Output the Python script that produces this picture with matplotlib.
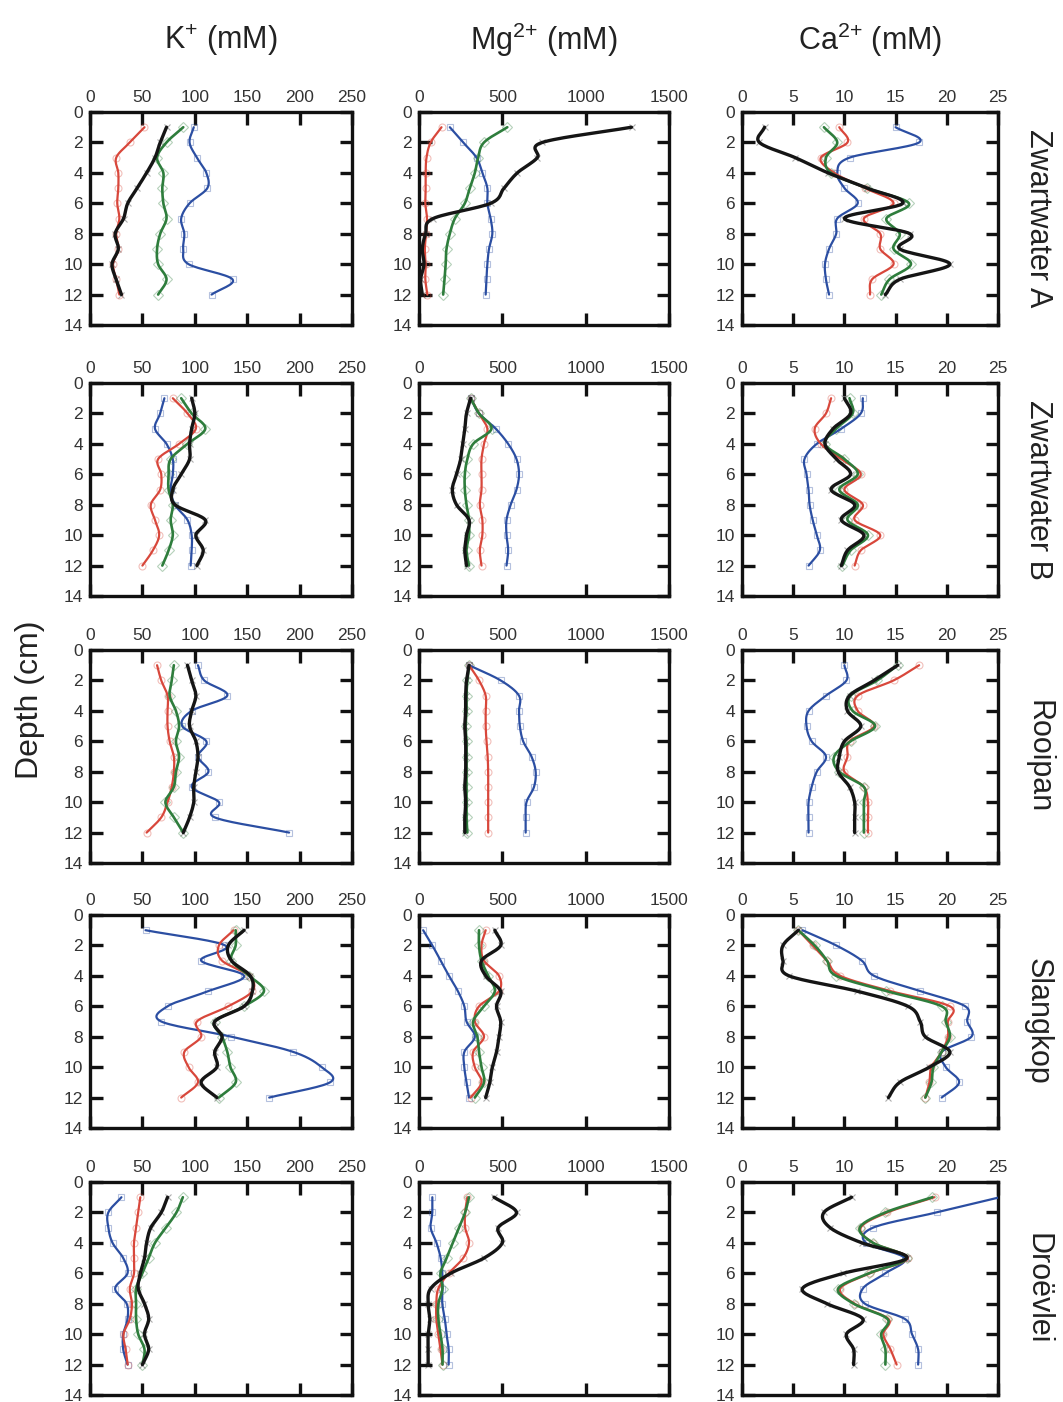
import numpy as np
import matplotlib
matplotlib.use("Agg")
import matplotlib.pyplot as plt

plt.rcParams['font.family'] = ['Liberation Sans', 'DejaVu Sans']
plt.rcParams['mathtext.default'] = 'regular'

# depth of each pore-water sample (cm)
depth = [1, 2, 3, 4, 5, 6, 7, 8, 9, 10, 11, 12]

sites = ['Zwartwater A', 'Zwartwater B', 'Rooipan', 'Slangkop', 'Droëvlei']
ions = ['K$^{{+}}$ (mM)', 'Mg$^{2{+}}$ (mM)', 'Ca$^{2{+}}$ (mM)']
x_max = [250, 1500, 25]
x_ticks = [[0, 50, 100, 150, 200, 250], [0, 500, 1000, 1500], [0, 5, 10, 15, 20, 25]]

# each panel: blue, red, green, black
zwa_k = [[99, 95, 102, 111, 112, 95, 87, 90, 89, 94, 136, 116],
         [52, 38, 25, 27, 27, 26, 28, 25, 27, 22, 25, 28],
         [89, 73, 64, 70, 69, 70, 73, 67, 64, 65, 73, 65],
         [73, 67, 62, 54, 45, 36, 32, 24, 27, 21, 25, 30]]
zwa_mg = [[185, 265, 345, 380, 410, 410, 430, 440, 420, 410, 405, 400],
          [135, 70, 45, 40, 40, 38, 48, 42, 35, 40, 38, 50],
          [530, 390, 355, 335, 305, 275, 215, 185, 165, 160, 153, 145],
          [1275, 740, 710, 590, 510, 430, 85, 40, 20, 30, 10, 20]]
zwa_ca = [[15, 17.3, 10.5, 9.3, 10, 11.3, 9.3, 9.2, 8.5, 8.1, 8.2, 8.5],
          [9.5, 10.3, 7.7, 9, 12, 14.8, 11.9, 13.5, 13.5, 14.8, 12.7, 12.5],
          [8, 9.3, 8.2, 8.7, 12.2, 16.3, 14.1, 15.4, 14.8, 16.5, 14.4, 13.6],
          [2.2, 1.7, 5.2, 8.4, 12.2, 15.7, 10, 16.4, 15.4, 20.3, 15.4, 14]]

zwb_k = [[71, 67, 62, 73, 79, 79, 77, 81, 93, 97, 97, 96],
         [79, 93, 101, 85, 65, 68, 67, 58, 62, 66, 60, 50],
         [87, 97, 110, 93, 77, 75, 75, 79, 77, 79, 75, 69],
         [97, 100, 97, 95, 95, 87, 79, 81, 110, 101, 108, 102]]
zwb_mg = [[310, 360, 460, 535, 585, 600, 585, 550, 525, 525, 535, 525],
          [310, 360, 410, 390, 375, 375, 375, 365, 380, 380, 365, 375],
          [310, 360, 435, 325, 290, 275, 275, 285, 300, 300, 285, 300],
          [310, 285, 275, 262, 250, 225, 200, 225, 300, 285, 275, 285]]
zwb_ca = [[11.8, 11.6, 9.7, 7.3, 6.1, 6.3, 6.5, 6.6, 6.9, 7.3, 7.6, 6.5],
          [8.7, 8.2, 7.1, 7.7, 9.7, 11.6, 10, 11.8, 11, 13.5, 11.6, 11],
          [10.5, 10.8, 9.2, 8.1, 10, 11.3, 9.5, 11.3, 10.3, 12.3, 10.6, 9.8],
          [10, 10.6, 8.9, 8.1, 9.2, 10.6, 8.7, 11, 9.7, 11.9, 10.3, 9.7]]

roo_k = [[103, 109, 131, 97, 88, 111, 103, 113, 97, 123, 119, 190],
         [64, 68, 74, 74, 74, 76, 80, 80, 78, 74, 68, 54],
         [80, 78, 76, 82, 85, 82, 85, 82, 80, 72, 80, 89],
         [93, 97, 101, 97, 95, 101, 103, 101, 99, 99, 95, 89]]
roo_mg = [[300, 490, 600, 600, 605, 625, 675, 700, 690, 645, 640, 640],
          [300, 360, 400, 400, 400, 405, 412, 415, 415, 415, 415, 415],
          [300, 290, 285, 285, 280, 285, 285, 285, 285, 285, 285, 290],
          [300, 285, 280, 280, 275, 280, 280, 280, 275, 280, 275, 275]]
roo_ca = [[10, 10.2, 8.2, 6.5, 6.3, 6.8, 8.2, 7.3, 6.8, 6.5, 6.5, 6.5],
          [17.3, 14.8, 11.3, 11.3, 12.9, 10.5, 10.3, 10, 11.9, 12.3, 12.3, 12.3],
          [15.2, 13.2, 10.6, 10.8, 13, 10.6, 9, 9.5, 11.9, 11.9, 11.9, 11.9],
          [15.2, 12.9, 10.5, 10.3, 11.6, 10, 9.5, 9.4, 10.5, 11, 11, 11]]

sla_k = [[53, 129, 106, 147, 113, 74, 68, 135, 194, 221, 229, 171],
         [137, 123, 126, 152, 155, 132, 102, 106, 90, 94, 103, 87],
         [139, 139, 135, 152, 166, 147, 119, 126, 131, 134, 139, 123],
         [147, 132, 135, 153, 155, 147, 119, 126, 119, 121, 106, 121]]
sla_mg = [[25, 80, 130, 180, 233, 272, 285, 335, 272, 272, 285, 300],
          [400, 375, 390, 480, 480, 360, 335, 390, 325, 335, 375, 310],
          [360, 360, 375, 415, 455, 390, 325, 350, 360, 375, 390, 335],
          [455, 490, 375, 400, 490, 465, 490, 480, 465, 440, 425, 400]]
sla_ca = [[5.9, 9.2, 11.7, 12.9, 17.4, 21.8, 22, 22.4, 19.5, 19.9, 21.2, 19.5],
          [5.5, 6.9, 8.3, 9.6, 14.5, 20.3, 20.1, 20.1, 19.5, 18.5, 18.3, 17.9],
          [5.5, 7.1, 8.3, 9.2, 14.1, 19.5, 19.9, 20.3, 19.5, 18.7, 18.5, 17.9],
          [5.5, 4, 4, 4.6, 11.2, 16.2, 17.4, 17.9, 20.3, 18.3, 15.4, 14.3]]

dro_k = [[30, 17.5, 17.5, 21.5, 31.7, 35.8, 24, 35, 35.8, 31.7, 31.7, 35.8],
         [48, 46, 44, 42, 42, 42, 38, 40, 38, 32, 34, 36],
         [88.6, 82.5, 72.4, 62, 56, 50, 44, 44, 44, 46, 52, 50],
         [74, 68, 58, 54, 52, 48, 46, 52, 56, 52, 56, 50]]
dro_mg = [[80, 80, 70, 105, 130, 140, 140, 140, 155, 165, 178, 178],
          [290, 277, 277, 300, 265, 178, 116, 104, 104, 116, 129, 141],
          [300, 277, 240, 203, 166, 129, 141, 116, 116, 129, 141, 141],
          [450, 585, 475, 500, 390, 190, 70, 55, 65, 55, 55, 55]]
dro_ca = [[25.2, 19, 12.8, 12.1, 15.9, 14, 11.8, 12, 15.9, 16.6, 17.2, 17.2],
          [18.8, 14.2, 11.6, 12.8, 16.2, 12.5, 9.6, 11, 14.3, 13.8, 14.5, 15.1],
          [18.6, 14, 11.5, 12.8, 16.1, 12.4, 9.4, 10.9, 14.2, 13.6, 14, 14],
          [10.7, 8, 8.6, 11.7, 16.1, 9.9, 5.9, 8.3, 11.8, 10.2, 10.9, 10.9]]

panels = [[zwa_k, zwa_mg, zwa_ca],
          [zwb_k, zwb_mg, zwb_ca],
          [roo_k, roo_mg, roo_ca],
          [sla_k, sla_mg, sla_ca],
          [dro_k, dro_mg, dro_ca]]

colors = ['#2b4ea2', '#d8473b', '#2e7d3c', '#151515']
widths = [1.6, 1.6, 1.9, 2.4]
markers = ['s', 'o', 'D', 'x']


def smooth(d, v, n=16):
    """Catmull-Rom curve through the points (only for drawing)"""
    d = np.asarray(d, float)
    v = np.asarray(v, float)
    vp = np.concatenate([[2 * v[0] - v[1]], v, [2 * v[-1] - v[-2]]])
    t = np.linspace(0, 1, n, endpoint=False)
    dd, vv = [], []
    for i in range(len(v) - 1):
        p0, p1, p2, p3 = vp[i:i + 4]
        seg = 0.5 * (2 * p1 + (-p0 + p2) * t + (2 * p0 - 5 * p1 + 4 * p2 - p3) * t ** 2
                     + (-p0 + 3 * p1 - 3 * p2 + p3) * t ** 3)
        vv.append(seg)
        dd.append(d[i] + (d[i + 1] - d[i]) * t)
    dd.append([d[-1]])
    vv.append([v[-1]])
    return np.concatenate(dd), np.concatenate(vv)


W, H = 1063, 1402
fig = plt.figure(figsize=(W / 100, H / 100), dpi=100)
fig.patch.set_facecolor('white')

col_pos = [(90, 262), (419, 250), (742, 256)]
row_top = [112, 383, 650, 915, 1182]
ph = 213

for r, site in enumerate(sites):
    for c in range(3):
        x0, w = col_pos[c]
        ax = fig.add_axes([x0 / W, 1 - (row_top[r] + ph) / H, w / W, ph / H])
        for k in range(4):
            vals = panels[r][c][k]
            sd, sv = smooth(depth, vals)
            ax.plot(sv, sd, color=colors[k], lw=widths[k], solid_capstyle='round', zorder=3 + k)
            ax.plot(vals, depth, ls='none', marker=markers[k], ms=5, mfc='none',
                    mec=colors[k], mew=0.8, alpha=0.35, zorder=2)
        ax.set_xlim(0, x_max[c])
        ax.set_ylim(14, 0)
        ax.set_xticks(x_ticks[c])
        ax.set_yticks(range(0, 15, 2))
        ax.xaxis.tick_top()
        ax.tick_params(which='both', direction='in', top=True, bottom=True, left=True, right=True,
                       labeltop=True, labelbottom=False, length=9, width=2.4, labelsize=12.5,
                       pad=5, colors='#111', labelcolor='#333')
        for sp in ax.spines.values():
            sp.set_linewidth(2.4)
            sp.set_color('#111')

# column headers
for c, name in enumerate(ions):
    x0, w = col_pos[c]
    fig.text((x0 + w / 2) / W, 1 - 40 / H, name, ha='center', va='center', fontsize=22, color='#222')

# site names on the right
for r, site in enumerate(sites):
    fig.text(1038 / W, 1 - (row_top[r] + ph / 2) / H, site, rotation=-90, ha='center', va='center',
             fontsize=22, color='#222')

fig.text(30 / W, 1 - 700 / H, 'Depth (cm)', rotation=90, ha='center', va='center', fontsize=23, color='#222')

fig.savefig('out.png', dpi=100, facecolor='white')
